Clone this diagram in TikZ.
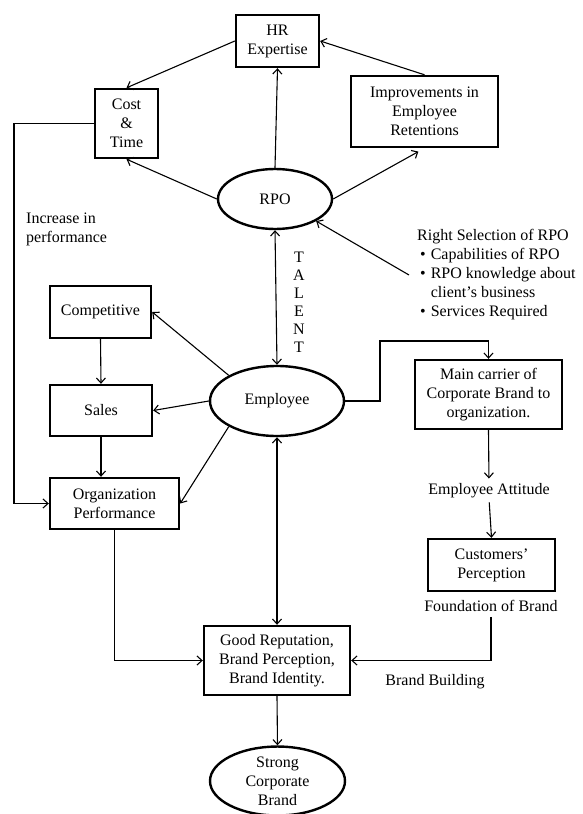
\documentclass[tikz,border=0pt]{standalone}
\usepackage{fontspec}
\setmainfont{Liberation Serif}
\usetikzlibrary{shapes.geometric,arrows.meta}

\begin{document}
\begin{tikzpicture}[
    x=1pt, y=-1pt,
    >={Straight Barb[length=5pt,width=9pt]},
    font=\fontsize{16}{19}\selectfont,
    % Estilos: caixas e elipses de borda grossa, setas finas
    caixa/.style={draw, line width=2.4pt, align=center, inner sep=2pt},
    elipse/.style={draw, ellipse, line width=2.4pt, align=center, inner sep=0pt},
    rotulo/.style={align=left, inner sep=0pt},
    seta/.style={line width=1.1pt}
]

% =========================================================
% === AREA DO DESENHO (unidades em pt, eixo y para baixo) ===
% =========================================================
\useasboundingbox (0,0) rectangle (583,814);

% --- Bloco superior: RPO e seus resultados ---
\node[caixa, minimum width=83pt, minimum height=52pt] (hr) at (277.5,41) {HR\\Expertise};
\node[caixa, minimum width=63pt, minimum height=69pt] (cost) at (126.5,123.5) {Cost\\\&\\Time};
\node[caixa, minimum width=147pt, minimum height=71pt] (imp) at (424.5,111.5) {Improvements in\\Employee\\Retentions};
\node[elipse, minimum width=114pt, minimum height=60pt] (rpo) at (275,199) {RPO};

% --- Textos soltos ---
\node[rotulo, anchor=west] (incr) at (26,229) {Increase in\\performance};
\node[rotulo, align=center, font=\fontsize{16}{18}\selectfont] (talent) at (299,302) {T\\A\\L\\E\\N\\T};
\node[rotulo, anchor=west] (sel) at (417,275) {Right Selection of RPO\\
    \hspace*{3pt}\textbullet\hspace{5pt}Capabilities of RPO\\
    \hspace*{3pt}\textbullet\hspace{5pt}RPO knowledge about\\
    \hspace*{3pt}\phantom{\textbullet}\hspace{5pt}client's business\\
    \hspace*{3pt}\textbullet\hspace{5pt}Services Required};

% --- Coluna esquerda ---
\node[caixa, minimum width=101pt, minimum height=52pt] (comp) at (100.5,312) {Competitive};
\node[caixa, minimum width=102pt, minimum height=51pt] (sales) at (101,410.5) {Sales};
\node[caixa, minimum width=129pt, minimum height=51pt] (org) at (114.5,503.5) {Organization\\Performance};

% --- Centro ---
\node[elipse, minimum width=134pt, minimum height=70pt] (emp) at (277,401) {Employee};
\node[caixa, minimum width=146pt, minimum height=69pt] (good) at (277,660.5) {Good Reputation,\\Brand Perception,\\Brand Identity.};
\node[elipse, minimum width=135pt, minimum height=64pt] (strong) at (277.5,781) {Strong\\Corporate\\Brand};

% --- Coluna direita ---
\node[caixa, minimum width=147pt, minimum height=69pt] (main) at (488.5,394.5) {Main carrier of\\Corporate Brand to\\organization.};
\node[rotulo] (att) at (489,491) {Employee Attitude};
\node[caixa, minimum width=127pt, minimum height=52pt] (cust) at (491.5,565) {Customers'\\Perception};
\node[rotulo] (found) at (491,606) {Foundation of Brand};
\node[rotulo] (bb) at (435,682) {Brand Building};

% --- Pontos auxiliares das linhas em cotovelo ---
\coordinate (voltaEsq) at (14,0);
\coordinate (dobra) at (380,341);

% --- Setas do bloco RPO ---
\draw[->, seta] (hr.west) -- (cost.north);
\draw[->, seta] (imp.north) -- (hr.east);
\draw[->, seta] (rpo.north) -- (hr.south);
\draw[->, seta] (rpo.west) -- (cost.south);
\draw[->, seta, shorten >=7pt] (rpo.east) -- (imp.south);
\draw[->, seta] ([xshift=-8pt]sel.west) -- (rpo.south east);
\draw[<->, seta] (rpo.south) -- (emp.north);

% --- Setas do Employee para a esquerda ---
\draw[->, seta] (emp.north west) -- (comp.east);
\draw[->, seta] (emp.west) -- (sales.east);
\draw[->, seta] (emp.south west) -- (org.east);
\draw[->, seta] (comp.south) -- (sales.north);
\draw[->, seta] (sales.south) -- (sales.south |- org.north);
\draw[->, seta] (cost.west) -- (cost.west -| voltaEsq) |- (org.west);

% --- Setas da direita ---
\draw[->, seta] (emp.east) -| (dobra) -| (main.north);
\draw[->, seta, shorten >=5pt] (main.south) -- (att.north);
\draw[->, seta, shorten <=4pt] (att.south) -- (cust.north);
\draw[->, seta, shorten <=5pt] (found.south) |- (good.east);

% --- Setas para a marca ---
\draw[->, seta] (org.south) |- (good.west);
\draw[<->, seta] (emp.south) -- (good.north);
\draw[->, seta] (good.south) -- (strong.north);

\end{tikzpicture}
\end{document}
